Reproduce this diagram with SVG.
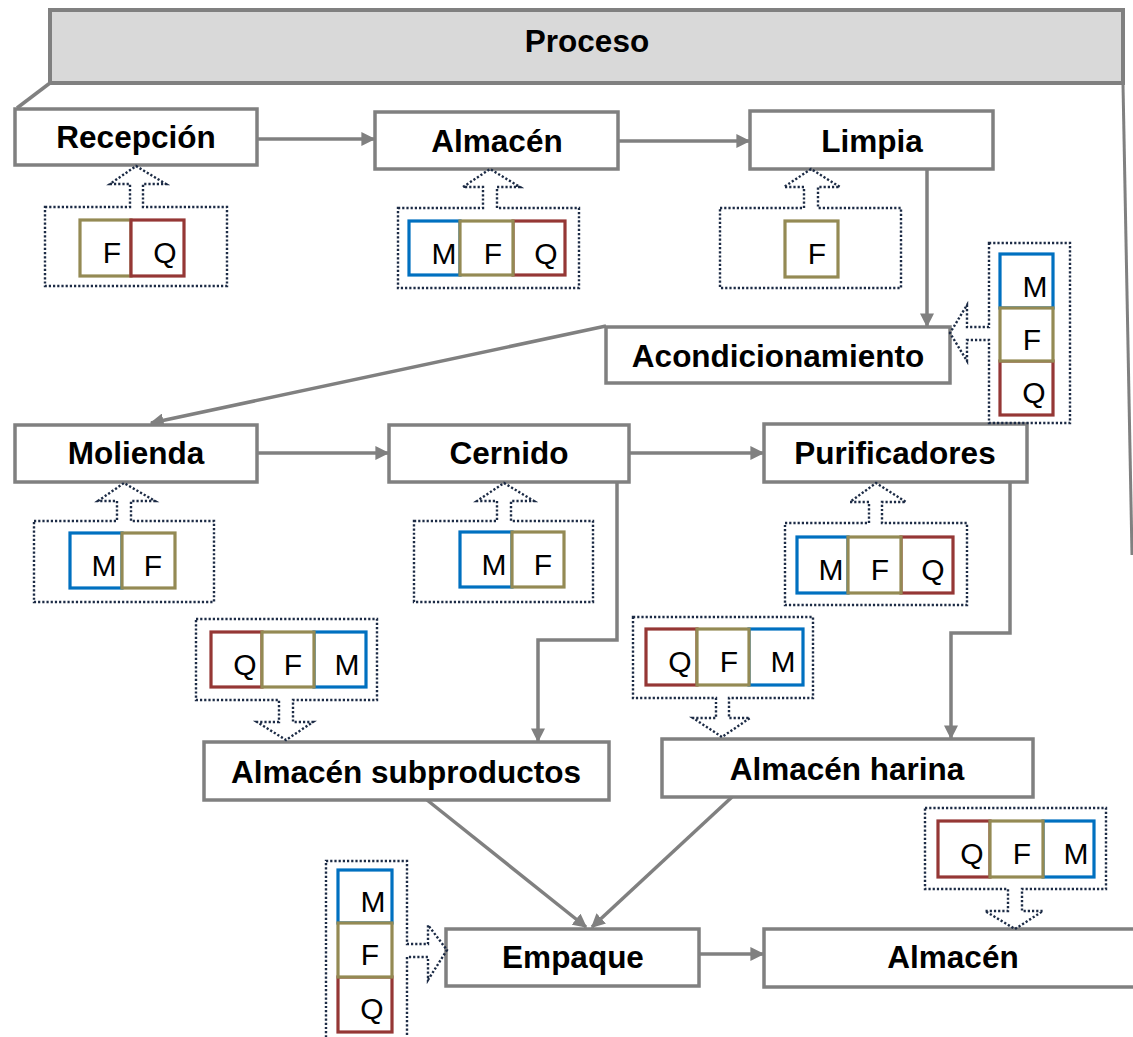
<svg xmlns="http://www.w3.org/2000/svg" width="1133" height="1037" viewBox="0 0 1133 1037">
<defs>
<style>
.node{fill:#fff;stroke:#808080;stroke-width:3.5}
.lbl{font-family:"Liberation Sans",Arial,sans-serif;font-weight:bold;font-size:31.5px;fill:#000;text-anchor:middle}
.let{font-family:"Liberation Sans",Arial,sans-serif;font-size:30px;fill:#000;text-anchor:middle}
.dot{fill:none;stroke:#1c2b45;stroke-width:2.4;stroke-dasharray:2.2 2}
.m{fill:#fff;stroke:#0070c0;stroke-width:3.2}
.f{fill:#fff;stroke:#948a54;stroke-width:3.2}
.q{fill:#fff;stroke:#953735;stroke-width:3.2}
.con{fill:none;stroke:#808080;stroke-width:3.5}
</style>
<marker id="ah" viewBox="0 0 10 10" refX="9" refY="5" markerWidth="14" markerHeight="14" markerUnits="userSpaceOnUse" orient="auto">
<path d="M0,0 L10,5 L0,10 Z" fill="#808080"/>
</marker>
</defs>
<rect width="1133" height="1037" fill="#fff"/>

<g id="header">
<rect x="50" y="10" width="1073" height="73" fill="#d9d9d9" stroke="#808080" stroke-width="4"/>
<line x1="50" y1="83" x2="17" y2="108" stroke="#808080" stroke-width="3.5"/>
<line x1="1123" y1="84" x2="1132" y2="555" stroke="#808080" stroke-width="3"/>
<text class="lbl" x="587" y="52">Proceso</text>
</g>

<g id="connectors">
<path class="con" marker-end="url(#ah)" d="M257,139 H374"/>
<path class="con" marker-end="url(#ah)" d="M618,141 H749"/>
<path class="con" marker-end="url(#ah)" d="M858,168 H927 V326"/>
<path class="con" marker-end="url(#ah)" d="M606,326 L151,423"/>
<path class="con" marker-end="url(#ah)" d="M257,453 H388"/>
<path class="con" marker-end="url(#ah)" d="M629,453 H763"/>
<path class="con" marker-end="url(#ah)" d="M617,482 V640 H538 V741"/>
<path class="con" marker-end="url(#ah)" d="M1010,483 V633 H951 V738"/>
<path class="con" marker-end="url(#ah)" d="M427,800 L586,927"/>
<path class="con" marker-end="url(#ah)" d="M732,797 L592,927"/>
<path class="con" marker-end="url(#ah)" d="M699,954 H763"/>
</g>

<g id="recepcion">
<rect class="node" x="15" y="109" width="242" height="56"/>
<text class="lbl" x="136" y="148">Recepción</text>
</g>
<g id="almacen1">
<rect class="node" x="375" y="112" width="243" height="57"/>
<text class="lbl" x="497" y="152">Almacén</text>
</g>
<g id="limpia">
<rect class="node" x="750" y="111" width="243" height="58"/>
<text class="lbl" x="872" y="152">Limpia</text>
</g>
<g id="acondicionamiento">
<rect class="node" x="606" y="327" width="344" height="56"/>
<text class="lbl" x="778" y="367">Acondicionamiento</text>
</g>
<g id="molienda">
<rect class="node" x="15" y="425" width="242" height="57"/>
<text class="lbl" x="136" y="464">Molienda</text>
</g>
<g id="cernido">
<rect class="node" x="389" y="425" width="240" height="57"/>
<text class="lbl" x="509" y="464">Cernido</text>
</g>
<g id="purificadores">
<rect class="node" x="764" y="424" width="263" height="58"/>
<text class="lbl" x="895" y="464">Purificadores</text>
</g>
<g id="almacen-subproductos">
<rect class="node" x="204" y="742" width="405" height="58"/>
<text class="lbl" x="406" y="783">Almacén subproductos</text>
</g>
<g id="almacen-harina">
<rect class="node" x="662" y="739" width="371" height="58"/>
<text class="lbl" x="847" y="780">Almacén harina</text>
</g>
<g id="empaque">
<rect class="node" x="446" y="929" width="253" height="57"/>
<text class="lbl" x="573" y="968">Empaque</text>
</g>
<g id="almacen2">
<rect class="node" x="764" y="929" width="380" height="58"/>
<text class="lbl" x="953" y="968">Almacén</text>
</g>

<g id="factors-recepcion">
<path class="dot" d="M45,207 H130 V184 H110 L136,166 L166,184 H143 V207 H227 V286 H45 Z"/>
<rect class="f" x="80" y="220" width="51" height="56"/>
<rect class="q" x="131" y="220" width="53" height="56"/>
<text class="let" x="112" y="263">F</text>
<text class="let" x="165" y="263">Q</text>
</g>
<g id="factors-almacen1">
<path class="dot" d="M398,208 H483 V187 H463 L490,169 L520,187 H497 V208 H579 V288 H398 Z"/>
<rect class="m" x="409" y="221" width="51" height="54"/>
<rect class="q" x="513" y="221" width="52" height="54"/>
<rect class="f" x="460" y="221" width="53" height="54"/>
<text class="let" x="444" y="264">M</text>
<text class="let" x="493" y="264">F</text>
<text class="let" x="546" y="264">Q</text>
</g>
<g id="factors-limpia">
<path class="dot" d="M720,208 H804 V187 H784 L811,169 L840,187 H818 V208 H901 V288 H720 Z"/>
<rect class="f" x="785" y="221" width="53" height="56"/>
<text class="let" x="817" y="264">F</text>
</g>
<g id="factors-acondicionamiento">
<path class="dot" d="M989,243 H1070 V423 H989 V340 H967 V361 L950,333 L967,305 V327 H989 Z"/>
<rect class="m" x="1000" y="254" width="53" height="54"/>
<rect class="q" x="1000" y="361" width="53" height="54"/>
<rect class="f" x="1000" y="308" width="53" height="53"/>
<text class="let" x="1035" y="297">M</text>
<text class="let" x="1032" y="350">F</text>
<text class="let" x="1034" y="403">Q</text>
</g>
<g id="factors-molienda">
<path class="dot" d="M34,521 H117 V501 H98 L124,483 L155,501 H131 V521 H214 V602 H34 Z"/>
<rect class="m" x="70" y="533" width="52" height="55"/>
<rect class="f" x="122" y="533" width="53" height="55"/>
<text class="let" x="104" y="576">M</text>
<text class="let" x="153" y="576">F</text>
</g>
<g id="factors-cernido">
<path class="dot" d="M414,521 H497 V501 H477 L504,483 L534,501 H511 V521 H593 V602 H414 Z"/>
<rect class="m" x="460" y="532" width="52" height="55"/>
<rect class="f" x="512" y="532" width="52" height="55"/>
<text class="let" x="494" y="575">M</text>
<text class="let" x="543" y="575">F</text>
</g>
<g id="factors-purificadores">
<path class="dot" d="M785,523 H869 V502 H850 L876,483 L906,502 H882 V523 H967 V605 H785 Z"/>
<rect class="m" x="797" y="537" width="51" height="56"/>
<rect class="q" x="901" y="537" width="52" height="56"/>
<rect class="f" x="848" y="537" width="53" height="56"/>
<text class="let" x="831" y="580">M</text>
<text class="let" x="880" y="580">F</text>
<text class="let" x="933" y="580">Q</text>
</g>
<g id="factors-subproductos">
<path class="dot" d="M196,619 H377 V700 H293 V722 H313 L286,740 L257,722 H279 V700 H196 Z"/>
<rect class="q" x="211" y="632" width="51" height="55"/>
<rect class="m" x="314" y="632" width="52" height="55"/>
<rect class="f" x="262" y="632" width="52" height="55"/>
<text class="let" x="245" y="675">Q</text>
<text class="let" x="293" y="675">F</text>
<text class="let" x="347" y="675">M</text>
</g>
<g id="factors-harina">
<path class="dot" d="M633,617 H813 V698 H729 V718 H750 L722,737 L693,718 H716 V698 H633 Z"/>
<rect class="q" x="646" y="629" width="51" height="56"/>
<rect class="m" x="749" y="629" width="54" height="56"/>
<rect class="f" x="697" y="629" width="52" height="56"/>
<text class="let" x="680" y="672">Q</text>
<text class="let" x="729" y="672">F</text>
<text class="let" x="783" y="672">M</text>
</g>
<g id="factors-almacen2">
<path class="dot" d="M925,808 H1106 V889 H1022 V911 H1043 L1015,929 L985,911 H1008 V889 H925 Z"/>
<rect class="q" x="938" y="821" width="52" height="56"/>
<rect class="m" x="1043" y="821" width="51" height="56"/>
<rect class="f" x="990" y="821" width="53" height="56"/>
<text class="let" x="972" y="864">Q</text>
<text class="let" x="1022" y="864">F</text>
<text class="let" x="1076" y="864">M</text>
</g>
<g id="factors-empaque">
<path class="dot" d="M326,861 H407 V944 H428 V925 L447,950 L428,980 V957 H407 V1045 H326 Z"/>
<rect class="m" x="338" y="870" width="54" height="53"/>
<rect class="q" x="338" y="977" width="54" height="55"/>
<rect class="f" x="338" y="923" width="54" height="54"/>
<text class="let" x="373" y="912">M</text>
<text class="let" x="370" y="965">F</text>
<text class="let" x="372" y="1019">Q</text>
</g>
</svg>
